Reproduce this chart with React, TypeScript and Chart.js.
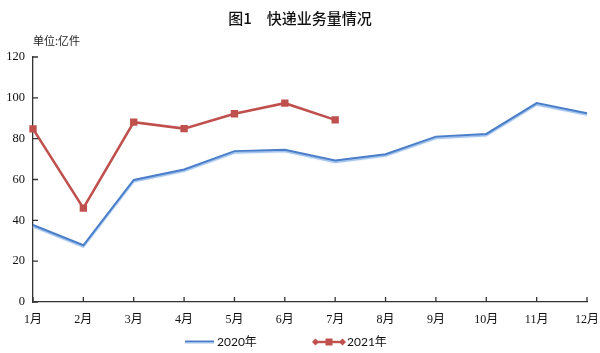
import React, { useEffect, useRef } from "react";
import { Chart, registerables } from "chart.js";

Chart.register(...registerables);

const months = ["1月", "2月", "3月", "4月", "5月", "6月", "7月", "8月", "9月", "10月", "11月", "12月"];
const values2020 = [37.7, 27.8, 59.8, 64.9, 73.9, 74.6, 69.3, 72.4, 81, 82.3, 97.4, 92.5];
const values2021 = [84.8, 46, 88.1, 84.9, 92.2, 97.4, 89.2];
const yTicks = [0, 20, 40, 60, 80, 100, 120];
const title = "图1　快递业务量情况";
const unitLabel = "单位:亿件";
const series2020 = "2020年";
const series2021 = "2021年";

const BLUE = "#4a7ec9";
const RED = "#c0504d";

const inwardTicks = {
  id: "inwardTicks",
  afterDraw(chart: any) {
    const ctx = chart.ctx;
    const x = chart.scales.x;
    const y = chart.scales.y;
    const area = chart.chartArea;
    ctx.save();
    ctx.strokeStyle = "#333";
    ctx.lineWidth = 1.3;
    ctx.beginPath();
    for (let i = 0; i < x.ticks.length; i++) {
      const px = x.getPixelForTick(i);
      ctx.moveTo(px, area.bottom);
      ctx.lineTo(px, area.bottom - 5);
    }
    for (let i = 0; i < y.ticks.length; i++) {
      const py = y.getPixelForTick(i);
      ctx.moveTo(area.left, py);
      ctx.lineTo(area.left + 5, py);
    }
    ctx.stroke();
    ctx.restore();
  },
};

const blueShadow = {
  id: "blueShadow",
  beforeDatasetDraw(chart: any, args: any) {
    if (args.index !== 0) return;
    const ctx = chart.ctx;
    ctx.save();
    ctx.shadowColor = "rgba(150,188,235,0.95)";
    ctx.shadowOffsetX = 0;
    ctx.shadowOffsetY = 1.6;
    ctx.shadowBlur = 1;
  },
  afterDatasetDraw(chart: any, args: any) {
    if (args.index !== 0) return;
    chart.ctx.restore();
  },
};

export default function App() {
  const canvasRef = useRef<HTMLCanvasElement | null>(null);

  useEffect(() => {
    if (!canvasRef.current) return;
    const chart = new Chart(canvasRef.current, {
      type: "line",
      data: {
        labels: months,
        datasets: [
          {
            label: series2020,
            data: values2020,
            borderColor: BLUE,
            backgroundColor: BLUE,
            borderWidth: 2,
            pointRadius: 0,
            tension: 0,
          },
          {
            label: series2021,
            data: values2021,
            borderColor: RED,
            backgroundColor: RED,
            borderWidth: 2.6,
            pointStyle: "rect",
            pointRadius: 5.2,
            pointBorderWidth: 0,
            tension: 0,
          },
        ],
      },
      options: {
        animation: false,
        responsive: false,
        devicePixelRatio: 1,
        layout: { padding: { top: 57, right: 13, bottom: 0, left: 0 } },
        plugins: {
          legend: { display: false },
          tooltip: { enabled: false },
          title: { display: false },
        },
        scales: {
          x: {
            offset: false,
            grid: { display: true, drawOnChartArea: false, drawTicks: false },
            border: { display: true, color: "#333", width: 1.3 },
            ticks: {
              padding: 11,
              color: "#111",
              maxRotation: 0,
              autoSkip: false,
              font: { family: "'Liberation Serif', 'Noto Sans CJK SC', serif", size: 12 },
            },
            afterFit: (s: any) => {
              s.height = 51;
              s.paddingLeft = 0;
              s.paddingRight = 0;
            },
          },
          y: {
            min: 0,
            max: 120,
            afterBuildTicks: (s: any) => {
              s.ticks = yTicks.map((v) => ({ value: v }));
            },
            grid: { display: true, drawOnChartArea: false, drawTicks: false },
            border: { display: true, color: "#333", width: 1.3 },
            ticks: {
              padding: 8,
              color: "#111",
              font: { family: "'Liberation Serif', serif", size: 12.5 },
            },
            afterFit: (s: any) => {
              s.width = 33;
            },
          },
        },
      },
      plugins: [inwardTicks, blueShadow],
    });
    return () => chart.destroy();
  }, []);

  return (
    <div
      style={{
        position: "fixed",
        left: 0,
        top: 0,
        width: 600,
        height: 353,
        background: "#fff",
        overflow: "hidden",
      }}
    >
      <canvas ref={canvasRef} width={600} height={353} style={{ position: "absolute", left: 0, top: 0 }} />
      <div
        style={{
          position: "absolute",
          left: 0,
          width: 600,
          top: 8,
          textAlign: "center",
          fontFamily: "'Noto Sans CJK SC', sans-serif",
          fontSize: 15,
          fontWeight: 500,
          color: "#111",
          lineHeight: "20px",
          whiteSpace: "pre",
        }}
      >
        {title}
      </div>
      <div
        style={{
          position: "absolute",
          left: 33,
          top: 32,
          fontFamily: "'Noto Sans CJK SC', serif",
          fontSize: 11,
          color: "#222",
          lineHeight: "16px",
          whiteSpace: "pre",
        }}
      >
        {unitLabel}
      </div>
      <div
        style={{
          position: "absolute",
          left: 185,
          top: 334,
          height: 16,
          display: "flex",
          alignItems: "center",
          fontFamily: "Lato, 'Noto Sans CJK SC', sans-serif",
          fontSize: 12,
          color: "#111",
          lineHeight: "16px",
        }}
      >
        <svg width={29} height={6} style={{ marginRight: 3 }}>
          <line x1={0} y1={2.5} x2={29} y2={2.5} stroke={BLUE} strokeWidth={2} />
          <line x1={0} y1={4} x2={29} y2={4} stroke="rgba(150,188,235,0.9)" strokeWidth={1} />
        </svg>
        <span style={{ width: 95 }}>{series2020}</span>
        <svg width={34} height={10} style={{ marginRight: 1 }}>
          <line x1={2} y1={5} x2={32} y2={5} stroke={RED} strokeWidth={2.4} />
          <polygon points="0,5 3.5,1.5 7,5 3.5,8.5" fill={RED} />
          <polygon points="27,5 30.5,1.5 34,5 30.5,8.5" fill={RED} />
          <rect x={13.5} y={1.5} width={7} height={7} fill={RED} />
        </svg>
        <span>{series2021}</span>
      </div>
    </div>
  );
}
